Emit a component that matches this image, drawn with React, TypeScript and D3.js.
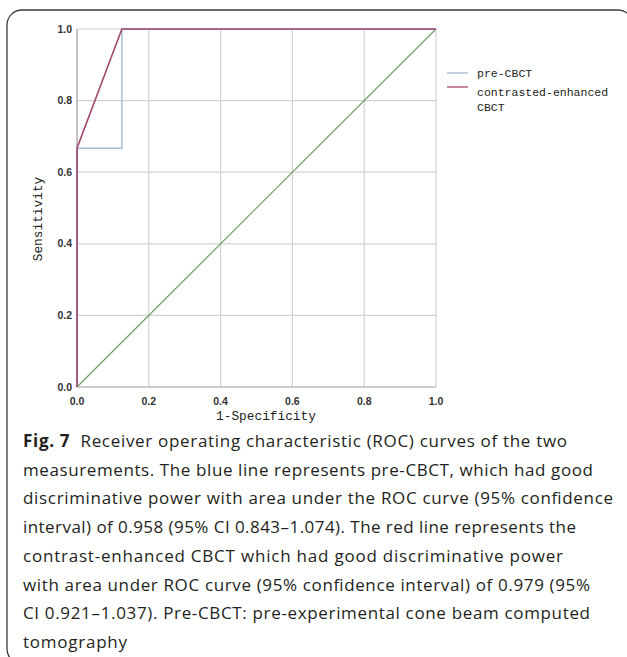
import React, { useEffect, useRef } from 'react'
import * as d3 from 'd3'

// ROC points
const preFpr = [0, 0, 0.125, 0.125, 1]
const preTpr = [0, 0.667, 0.667, 1, 1]
const ceFpr = [0, 0, 0.125, 1]
const ceTpr = [0, 0.667, 1, 1]
const refFpr = [0, 1]
const refTpr = [0, 1]

const tickValues = [0, 0.2, 0.4, 0.6, 0.8, 1.0]
const legendLabels = ['pre-CBCT', 'contrasted-enhanced\nCBCT']
const xTitle = '1-Specificity'
const yTitle = 'Sensitivity'

const captionBold = 'Fig. 7'
const captionLines = [
  '  Receiver operating characteristic (ROC) curves of the two',
  'measurements. The blue line represents pre-CBCT, which had good',
  'discriminative power with area under the ROC curve (95% confidence',
  'interval) of 0.958 (95% CI 0.843–1.074). The red line represents the',
  'contrast-enhanced CBCT which had good discriminative power',
  'with area under ROC curve (95% confidence interval) of 0.979 (95%',
  'CI 0.921–1.037). Pre-CBCT: pre-experimental cone beam computed',
  'tomography',
]

export default function App() {
  const svgRef = useRef<SVGSVGElement>(null)

  useEffect(() => {
    const W = 627, H = 657
    const svg = d3.select(svgRef.current)
    svg.selectAll('*').remove()
    svg.attr('width', W).attr('height', H)

    // frame
    svg.append('rect')
      .attr('x', 7).attr('y', 10)
      .attr('width', 626).attr('height', 654)
      .attr('rx', 15)
      .attr('fill', 'none')
      .attr('stroke', '#3a3a3a')
      .attr('stroke-width', 1.3)

    const x = d3.scaleLinear().domain([0, 1]).range([77, 436])
    const y = d3.scaleLinear().domain([0, 1]).range([387, 29])

    const g = svg.append('g')

    // grid
    g.selectAll('.vgrid').data(tickValues.slice(1)).enter().append('line')
      .attr('x1', d => x(d)).attr('x2', d => x(d))
      .attr('y1', y(0)).attr('y2', y(1))
      .attr('stroke', '#d2d2d2').attr('stroke-width', 1.2)
    g.selectAll('.hgrid').data(tickValues.slice(1)).enter().append('line')
      .attr('x1', x(0)).attr('x2', x(1))
      .attr('y1', d => y(d)).attr('y2', d => y(d))
      .attr('stroke', '#d2d2d2').attr('stroke-width', 1.2)

    // axes lines
    g.append('line').attr('x1', x(0)).attr('x2', x(0)).attr('y1', y(0)).attr('y2', y(1))
      .attr('stroke', '#9a9a9a').attr('stroke-width', 1.2)
    g.append('line').attr('x1', x(0)).attr('x2', x(1)).attr('y1', y(0)).attr('y2', y(0))
      .attr('stroke', '#9a9a9a').attr('stroke-width', 1.2)

    // tick labels
    const fmt = d3.format('.1f')
    g.selectAll('.ylab').data(tickValues).enter().append('text')
      .attr('x', x(0) - 5).attr('y', d => y(d)).attr('dy', '0.35em')
      .attr('text-anchor', 'end')
      .style('font', 'bold 10.5px "Liberation Sans", Arial, sans-serif')
      .attr('fill', '#333')
      .text(d => fmt(d))
    g.selectAll('.xlab').data(tickValues).enter().append('text')
      .attr('x', d => x(d)).attr('y', y(0) + 14).attr('dy', '0.35em')
      .attr('text-anchor', 'middle')
      .style('font', 'bold 10.5px "Liberation Sans", Arial, sans-serif')
      .attr('fill', '#333')
      .text(d => fmt(d))

    // axis titles
    g.append('text')
      .attr('x', 266).attr('y', 420)
      .attr('text-anchor', 'middle')
      .style('font', '12.8px "Liberation Mono", "DejaVu Sans Mono", monospace')
      .attr('fill', '#222')
      .text(xTitle)
    g.append('text')
      .attr('transform', 'translate(42,219) rotate(-90)')
      .attr('text-anchor', 'middle')
      .style('font', '12.8px "Liberation Mono", "DejaVu Sans Mono", monospace')
      .attr('fill', '#222')
      .text(yTitle)

    const line = d3.line<[number, number]>().x(d => x(d[0])).y(d => y(d[1]))

    g.append('path')
      .attr('d', line(d3.zip(refFpr, refTpr) as [number, number][]))
      .attr('fill', 'none').attr('stroke', '#6c9e5e').attr('stroke-width', 1.2)
    g.append('path')
      .attr('d', line(d3.zip(preFpr, preTpr) as [number, number][]))
      .attr('fill', 'none').attr('stroke', '#a3b9cf').attr('stroke-width', 1.4)
    g.append('path')
      .attr('d', line(d3.zip(ceFpr, ceTpr) as [number, number][]))
      .attr('fill', 'none').attr('stroke', '#a2466f').attr('stroke-width', 1.6)

    // legend
    const legendColors = ['#a3b9cf', '#a2466f']
    const lg = svg.append('g').attr('transform', 'translate(447,73)')
    legendLabels.forEach((lab, i) => {
      const row = lg.append('g').attr('transform', `translate(0,${i * 14})`)
      row.append('line').attr('x1', 0).attr('x2', 21).attr('y1', 0).attr('y2', 0)
        .attr('stroke', legendColors[i]).attr('stroke-width', 1.3)
      const t = row.append('text')
        .attr('x', 30).attr('y', i === 0 ? 4 : 9)
        .style('font', '11.5px "Liberation Mono", "DejaVu Sans Mono", monospace')
        .attr('fill', '#222')
      lab.split('\n').forEach((s, k) => {
        t.append('tspan').attr('x', 30).attr('dy', k === 0 ? 0 : 15).text(s)
      })
    })

    // caption
    const capWidths = [544, 570, 590, 553, 540, 567, 567, 104]
    const cap = svg.append('g')
    captionLines.forEach((s, i) => {
      const t = cap.append('text')
        .attr('x', 23).attr('y', 447 + i * 28.7)
        .attr('textLength', capWidths[i])
        .attr('lengthAdjust', 'spacing')
        .style('font', '17px "Open Sans", "Noto Sans", sans-serif')
        .attr('fill', '#231f20')
      if (i === 0) {
        t.append('tspan').style('font-weight', 'bold').text(captionBold)
      }
      t.append('tspan').style('white-space', 'pre').text(s)
    })
  }, [])

  return (
    <div style={{ position: 'absolute', left: 0, top: 0 }}>
      <svg ref={svgRef} style={{ display: 'block', background: '#fff' }} />
    </div>
  )
}
